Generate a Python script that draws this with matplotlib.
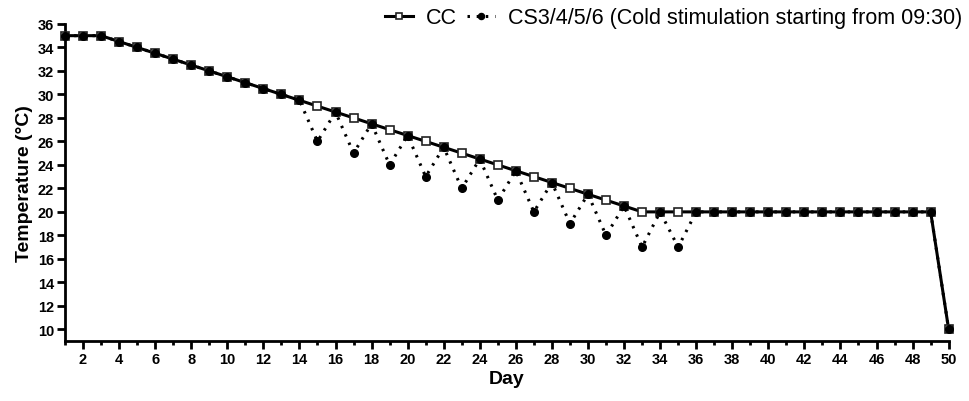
import matplotlib
matplotlib.use("Agg")
import matplotlib.pyplot as plt
from matplotlib.ticker import MultipleLocator

days = list(range(1, 51))
cc_temp = [35, 35, 35, 34.5, 34, 33.5, 33, 32.5, 32, 31.5,
           31, 30.5, 30, 29.5, 29, 28.5, 28, 27.5, 27, 26.5,
           26, 25.5, 25, 24.5, 24, 23.5, 23, 22.5, 22, 21.5,
           21, 20.5, 20, 20, 20, 20, 20, 20, 20, 20,
           20, 20, 20, 20, 20, 20, 20, 20, 20, 10]
cs_temp = [35, 35, 35, 34.5, 34, 33.5, 33, 32.5, 32, 31.5,
           31, 30.5, 30, 29.5, 26, 28.5, 25, 27.5, 24, 26.5,
           23, 25.5, 22, 24.5, 21, 23.5, 20, 22.5, 19, 21.5,
           18, 20.5, 17, 20, 17, 20, 20, 20, 20, 20,
           20, 20, 20, 20, 20, 20, 20, 20, 20, 10]

plt.rcParams["font.family"] = ["Liberation Sans", "DejaVu Sans"]

fig = plt.figure(figsize=(9.7, 4.02), dpi=100)
ax = fig.add_axes([0.067, 0.149, 0.911, 0.789])

ax.plot(days, cc_temp, color="black", linewidth=2.2, marker="s",
        markersize=6, markerfacecolor="white", markeredgecolor="#222222",
        markeredgewidth=1.2, label="CC", zorder=3, clip_on=False)
ax.plot(days, cs_temp, color="black", linewidth=2.2, linestyle=(0, (0.8, 2.2)),
        marker="o", markersize=5.5, markerfacecolor="black",
        markeredgecolor="black",
        label="CS3/4/5/6 (Cold stimulation starting from 09:30)", zorder=4,
        clip_on=False)

ax.set_xlim(1, 50)
ax.set_ylim(9, 36)
ax.xaxis.set_minor_locator(MultipleLocator(1))
ax.set_yticks(range(10, 37, 2))
ax.set_xticks(range(2, 51, 2))

for s in ["top", "right"]:
    ax.spines[s].set_visible(False)
for s in ["left", "bottom"]:
    ax.spines[s].set_linewidth(2)

ax.tick_params(axis="both", which="major", direction="out", length=6,
               width=2, labelsize=10.5, pad=2)
ax.tick_params(axis="x", which="minor", direction="out", length=3, width=2)
for lbl in ax.get_xticklabels() + ax.get_yticklabels():
    lbl.set_fontweight("bold")

ax.set_xlabel("Day", fontsize=14, fontweight="bold", labelpad=3)
ax.set_ylabel("Temperature (\u00b0C)", fontsize=14, fontweight="bold", labelpad=3)

leg = ax.legend(loc="upper right", bbox_to_anchor=(0.999, 0.995),
                bbox_transform=fig.transFigure, ncol=2,
                frameon=False, fontsize=15.5, handlelength=1.3,
                handletextpad=0.6, columnspacing=0.5, borderaxespad=0.1,
                borderpad=0.2, markerscale=0.8)

fig.savefig("out.png", dpi=100)
